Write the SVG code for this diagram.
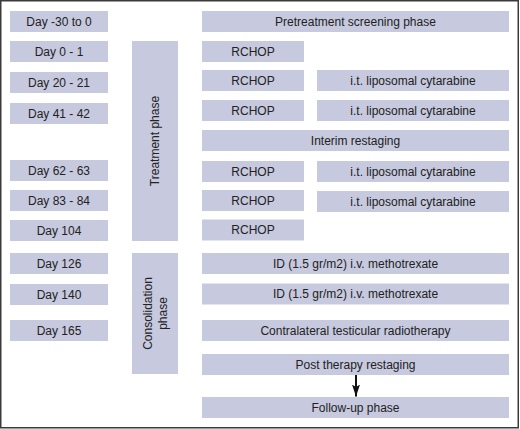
<svg xmlns="http://www.w3.org/2000/svg" width="520" height="429" viewBox="0 0 520 429">
<defs>
<style>
.b{fill:#c7c9de;}
.t{font-family:"Liberation Sans",Arial,sans-serif;font-size:12px;fill:#222;text-anchor:middle;dominant-baseline:central;}
</style>
<marker id="ah" viewBox="0 0 10 10" refX="10" refY="5" markerWidth="12" markerHeight="8" orient="auto" markerUnits="userSpaceOnUse" preserveAspectRatio="none">
<path d="M0,0 L10,5 L0,10 L2,5 z" fill="#111"/>
</marker>
</defs>
<rect x="0" y="0" width="520" height="429" fill="#fff"/>
<rect x="0.75" y="0.75" width="517.5" height="427" fill="none" stroke="#3a3a3a" stroke-width="1.5"/>

<g id="day-30"><rect class="b" x="10" y="11" width="98" height="21"/><text class="t" x="59" y="21.5">Day -30 to 0</text></g>
<g id="day0"><rect class="b" x="10" y="41" width="98" height="21"/><text class="t" x="59" y="51.5">Day 0 - 1</text></g>
<g id="day20"><rect class="b" x="10" y="72" width="98" height="21"/><text class="t" x="59" y="82.5">Day 20 - 21</text></g>
<g id="day41"><rect class="b" x="10" y="103" width="98" height="21"/><text class="t" x="59" y="113.5">Day 41 - 42</text></g>
<g id="day62"><rect class="b" x="10" y="160" width="98" height="21"/><text class="t" x="59" y="170.5">Day 62 - 63</text></g>
<g id="day83"><rect class="b" x="10" y="190" width="98" height="21"/><text class="t" x="59" y="200.5">Day 83 - 84</text></g>
<g id="day104"><rect class="b" x="10" y="220" width="98" height="21"/><text class="t" x="59" y="230.5">Day 104</text></g>
<g id="day126"><rect class="b" x="10" y="253" width="98" height="21"/><text class="t" x="59" y="263.5">Day 126</text></g>
<g id="day140"><rect class="b" x="10" y="284" width="98" height="21"/><text class="t" x="59" y="294.5">Day 140</text></g>
<g id="day165"><rect class="b" x="10" y="320" width="98" height="21"/><text class="t" x="59" y="330.5">Day 165</text></g>

<g id="treatment"><rect class="b" x="132" y="41" width="46" height="200"/><text class="t" transform="translate(155,141) rotate(-90)" x="0" y="0">Treatment phase</text></g>
<g id="consolidation"><rect class="b" x="132" y="253" width="46" height="121"/><text class="t" transform="translate(155,313.5) rotate(-90)"><tspan x="0" y="-7">Consolidation</tspan><tspan x="0" y="8">phase</tspan></text></g>

<g id="pretreatment"><rect class="b" x="202" y="11" width="307" height="21"/><text class="t" x="355.5" y="21.5">Pretreatment screening phase</text></g>
<g id="rchop1"><rect class="b" x="202" y="41" width="102" height="21"/><text class="t" x="253" y="51.5">RCHOP</text></g>
<g id="rchop2"><rect class="b" x="202" y="70" width="102" height="21"/><text class="t" x="253" y="80.5">RCHOP</text></g>
<g id="lipo1"><rect class="b" x="317" y="70" width="192" height="21"/><text class="t" x="413" y="80.5">i.t. liposomal cytarabine</text></g>
<g id="rchop3"><rect class="b" x="202" y="100" width="102" height="21"/><text class="t" x="253" y="110.5">RCHOP</text></g>
<g id="lipo2"><rect class="b" x="317" y="100" width="192" height="21"/><text class="t" x="413" y="110.5">i.t. liposomal cytarabine</text></g>
<g id="interim"><rect class="b" x="202" y="130" width="307" height="21"/><text class="t" x="355.5" y="140.5">Interim restaging</text></g>
<g id="rchop4"><rect class="b" x="202" y="161" width="102" height="21"/><text class="t" x="253" y="171.5">RCHOP</text></g>
<g id="lipo3"><rect class="b" x="317" y="161" width="192" height="21"/><text class="t" x="413" y="171.5">i.t. liposomal cytarabine</text></g>
<g id="rchop5"><rect class="b" x="202" y="190" width="102" height="21"/><text class="t" x="253" y="200.5">RCHOP</text></g>
<g id="lipo4"><rect class="b" x="317" y="191" width="192" height="21"/><text class="t" x="413" y="201.5">i.t. liposomal cytarabine</text></g>
<g id="rchop6"><rect class="b" x="202" y="219.5" width="102" height="21"/><text class="t" x="253" y="230">RCHOP</text></g>
<g id="id1"><rect class="b" x="202" y="253" width="307" height="21"/><text class="t" x="355.5" y="263.5">ID (1.5 gr/m2) i.v. methotrexate</text></g>
<g id="id2"><rect class="b" x="202" y="283.5" width="307" height="21"/><text class="t" x="355.5" y="294">ID (1.5 gr/m2) i.v. methotrexate</text></g>
<g id="radio"><rect class="b" x="202" y="320" width="307" height="21"/><text class="t" x="355.5" y="330.5">Contralateral testicular radiotherapy</text></g>
<g id="post"><rect class="b" x="202" y="354" width="307" height="21"/><text class="t" x="355.5" y="364.5">Post therapy restaging</text></g>
<g id="followup"><rect class="b" x="202" y="397" width="307" height="21"/><text class="t" x="355.5" y="407.5">Follow-up phase</text></g>

<g id="connectors">
<line x1="356" y1="375" x2="356" y2="396.5" stroke="#111" stroke-width="2" marker-end="url(#ah)"/>
</g>
</svg>
